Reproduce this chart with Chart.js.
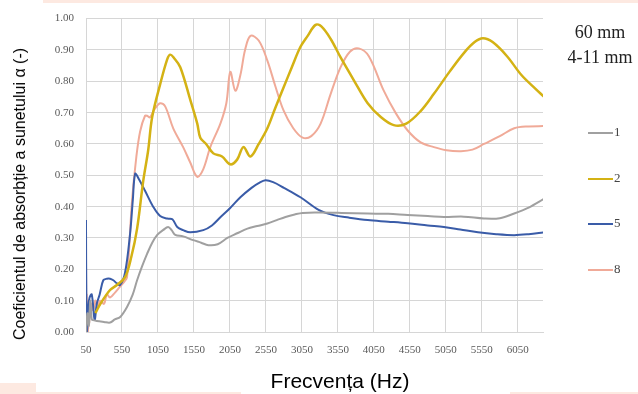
<!DOCTYPE html>
<html>
<head>
<meta charset="utf-8">
<script src="https://cdn.jsdelivr.net/npm/chart.js@4/dist/chart.umd.min.js"></script>
<style>
  body { margin: 0; background: #fff; }
  #wrap { position: relative; width: 638px; height: 394px; overflow: hidden; }
  #absChart { position: absolute; left: 0; top: 0; }
  .deco { position: absolute; background: #fde9e1; }
  #yTitle { position: absolute; left: 20px; top: 194px; transform: translate(-50%, -50%) rotate(-90deg);
            font: 16px "Liberation Sans", Arial, sans-serif; color: #000; white-space: nowrap; }
  #xTitle { position: absolute; left: 340px; top: 370px; transform: translateX(-50%);
            font: 21px "Liberation Sans", Arial, sans-serif; color: #000; white-space: nowrap; line-height: 1; }
  #title { position: absolute; left: 600px; top: 20px; transform: translateX(-50%); text-align: center;
           font: 18px "Liberation Serif", "Times New Roman", serif; color: #222; line-height: 25px; white-space: nowrap; }
  #legend { position: absolute; left: 588px; top: 124px; }
  .item { position: absolute; left: 0; width: 50px; height: 18px; font: 13px "Liberation Serif", serif; color: #444; }
  .item span.ln { position: absolute; left: 0; top: 8px; width: 25px; height: 2px; }
  .item span.tx { position: absolute; left: 26px; top: 0; }
</style>
</head>
<body>
<div id="wrap">
  <div class="deco" style="left:43px;top:0;width:595px;height:3px"></div>
  <div class="deco" style="left:0;top:383px;width:36px;height:11px"></div>
  <div class="deco" style="left:36px;top:392px;width:205px;height:2px"></div>
  <div class="deco" style="left:510px;top:392px;width:128px;height:2px"></div>
  <canvas id="absChart" width="638" height="394"></canvas>
  <div id="yTitle">Coeficientul de absorbție a sunetului α (-)</div>
  <div id="xTitle">Frecvența (Hz)</div>
  <div id="title">60 mm<br>4-11 mm</div>
  <div id="legend"></div>
</div>
<script>
// tick positions on the frequency axis
const xTickValues = [50, 550, 1050, 1550, 2050, 2550, 3050, 3550, 4050, 4550, 5050, 5550, 6050];

// sample 1
const freq1 = [50, 70, 90, 110, 130, 150, 200, 300, 385, 450, 525, 620, 700, 760, 830, 900, 970, 1040, 1120, 1192, 1240, 1290, 1400, 1540, 1650, 1750, 1880, 2014, 2150, 2293, 2430, 2570, 2700, 2822, 2950, 3060, 3300, 3600, 3964, 4250, 4520, 4800, 5023, 5300, 5580, 5800, 6000, 6200, 6416];
const alpha1 = [0.0, 0.06, 0.02, 0.1, 0.04, 0.038, 0.035, 0.032, 0.03, 0.04, 0.048, 0.08, 0.12, 0.165, 0.21, 0.25, 0.285, 0.31, 0.325, 0.335, 0.325, 0.31, 0.305, 0.293, 0.285, 0.277, 0.28, 0.30, 0.315, 0.33, 0.338, 0.346, 0.357, 0.367, 0.375, 0.38, 0.381, 0.38, 0.378, 0.377, 0.373, 0.37, 0.367, 0.368, 0.362, 0.363, 0.378, 0.397, 0.425];

// sample 2
const freq2 = [180, 250, 384, 480, 593, 680, 760, 844, 914, 969, 1080, 1178, 1220, 1270, 1360, 1500, 1596, 1638, 1719, 1819, 1940, 2055, 2150, 2237, 2335, 2450, 2570, 2680, 2795, 2910, 3030, 3130, 3240, 3320, 3450, 3588, 3780, 3964, 4150, 4326, 4500, 4700, 4884, 5100, 5300, 5450, 5566, 5700, 5900, 6100, 6300, 6416];
const alpha2 = [0.06, 0.09, 0.134, 0.15, 0.175, 0.24, 0.33, 0.48, 0.58, 0.685, 0.79, 0.87, 0.885, 0.875, 0.845, 0.74, 0.665, 0.62, 0.60, 0.57, 0.56, 0.535, 0.55, 0.59, 0.56, 0.6, 0.65, 0.715, 0.78, 0.845, 0.91, 0.945, 0.98, 0.975, 0.935, 0.876, 0.80, 0.73, 0.685, 0.66, 0.665, 0.705, 0.76, 0.83, 0.89, 0.925, 0.937, 0.925, 0.88, 0.82, 0.775, 0.75];

// sample 5
const freq5 = [50, 55, 65, 80, 100, 130, 170, 200, 240, 290, 340, 385, 430, 480, 525, 593, 663, 700, 733, 780, 872, 983, 1080, 1178, 1250, 1318, 1400, 1500, 1680, 1800, 1917, 2050, 2195, 2350, 2450, 2543, 2650, 2800, 3030, 3282, 3490, 3700, 3964, 4250, 4520, 4800, 5023, 5250, 5496, 5750, 6000, 6200, 6416];
const alpha5 = [0.357, 0.1, 0.0, 0.08, 0.11, 0.12, 0.04, 0.09, 0.12, 0.165, 0.17, 0.17, 0.165, 0.155, 0.15, 0.19, 0.315, 0.42, 0.505, 0.49, 0.45, 0.40, 0.37, 0.362, 0.36, 0.335, 0.325, 0.318, 0.325, 0.34, 0.366, 0.395, 0.43, 0.46, 0.475, 0.484, 0.478, 0.46, 0.43, 0.39, 0.373, 0.365, 0.357, 0.352, 0.347, 0.34, 0.335, 0.327, 0.318, 0.312, 0.309, 0.312, 0.318];

// sample 8
const freq8 = [50, 55, 60, 65, 72, 80, 88, 95, 105, 115, 130, 150, 180, 210, 245, 300, 340, 384, 450, 523, 580, 620, 690, 750, 802, 870, 900, 940, 1000, 1080, 1150, 1262, 1400, 1500, 1596, 1680, 1777, 1917, 2000, 2055, 2125, 2195, 2260, 2335, 2450, 2570, 2680, 2795, 2930, 3060, 3180, 3310, 3450, 3588, 3720, 3840, 3980, 4187, 4350, 4520, 4700, 4884, 5060, 5260, 5420, 5580, 5800, 6000, 6200, 6416];
const alpha8 = [0.24, 0.0, 0.12, 0.02, 0.1, 0.0, 0.08, 0.03, 0.1, 0.05, 0.09, 0.07, 0.1, 0.08, 0.1, 0.09, 0.12, 0.11, 0.125, 0.145, 0.16, 0.175, 0.42, 0.56, 0.64, 0.69, 0.69, 0.685, 0.71, 0.73, 0.72, 0.65, 0.59, 0.54, 0.495, 0.52, 0.59, 0.665, 0.73, 0.83, 0.77, 0.82, 0.9, 0.945, 0.93, 0.866, 0.785, 0.707, 0.65, 0.62, 0.625, 0.665, 0.76, 0.845, 0.895, 0.905, 0.88, 0.77, 0.70, 0.643, 0.605, 0.59, 0.58, 0.577, 0.582, 0.60, 0.625, 0.65, 0.656, 0.657];

const GRAY_COLOR = "rgb(160,160,160)";
const GOLD_COLOR = "rgb(212,178,20)";
const BLUE_COLOR = "rgb(58,92,168)";
const PINK_COLOR = "rgb(240,170,152)";

const toPoints = (xs, ys) => xs.map((x, i) => ({x: x, y: ys[i]}));

const series = [
    {label: "1", color: GRAY_COLOR, width: 2, data: toPoints(freq1, alpha1)},
    {label: "2", color: GOLD_COLOR, width: 2.5, data: toPoints(freq2, alpha2)},
    {label: "5", color: BLUE_COLOR, width: 2, data: toPoints(freq5, alpha5)},
    {label: "8", color: PINK_COLOR, width: 2, data: toPoints(freq8, alpha8)}
];

const tickFont = {family: "'Liberation Serif', 'Times New Roman', serif", size: 11};
const GRID = "rgb(214,214,214)";

const drawAbsChart = () => {
    const ctx = document.getElementById("absChart").getContext("2d");
    new Chart(ctx, {
        type: "line",
        data: {
            datasets: series.map(s => ({
                label: s.label,
                data: s.data,
                borderColor: s.color,
                backgroundColor: s.color,
                borderWidth: s.width,
                pointRadius: 0,
                fill: false,
                tension: 0.35
            }))
        },
        options: {
            responsive: false,
            animation: false,
            devicePixelRatio: 1,
            layout: {padding: {left: 0, top: 18, right: 95, bottom: 0}},
            plugins: {legend: {display: false}, tooltip: {enabled: false}},
            scales: {
                x: {
                    type: "linear",
                    min: 50,
                    max: 6400,
                    afterBuildTicks: axis => { axis.ticks = xTickValues.map(v => ({value: v})); },
                    afterFit: scale => { scale.height = 62; },
                    grid: {color: GRID, drawTicks: false},
                    border: {color: GRID},
                    ticks: {font: tickFont, color: "#595959", padding: 12, maxRotation: 0, autoSkip: false,
                            callback: v => String(v)}
                },
                y: {
                    min: 0,
                    max: 1,
                    afterFit: scale => { scale.width = 86; },
                    grid: {color: GRID, drawTicks: false},
                    border: {color: GRID},
                    ticks: {stepSize: 0.1, font: tickFont, color: "#595959", padding: 12,
                            callback: v => v.toFixed(2)}
                }
            }
        }
    });
};

const drawLegend = () => {
    const box = document.getElementById("legend");
    series.forEach((s, i) => {
        const item = document.createElement("div");
        item.className = "item";
        item.style.top = (i * 45.5) + "px";
        item.innerHTML = '<span class="ln" style="background:' + s.color + '"></span><span class="tx">' + s.label + '</span>';
        box.appendChild(item);
    });
};

drawAbsChart();
drawLegend();
</script>
</body>
</html>
